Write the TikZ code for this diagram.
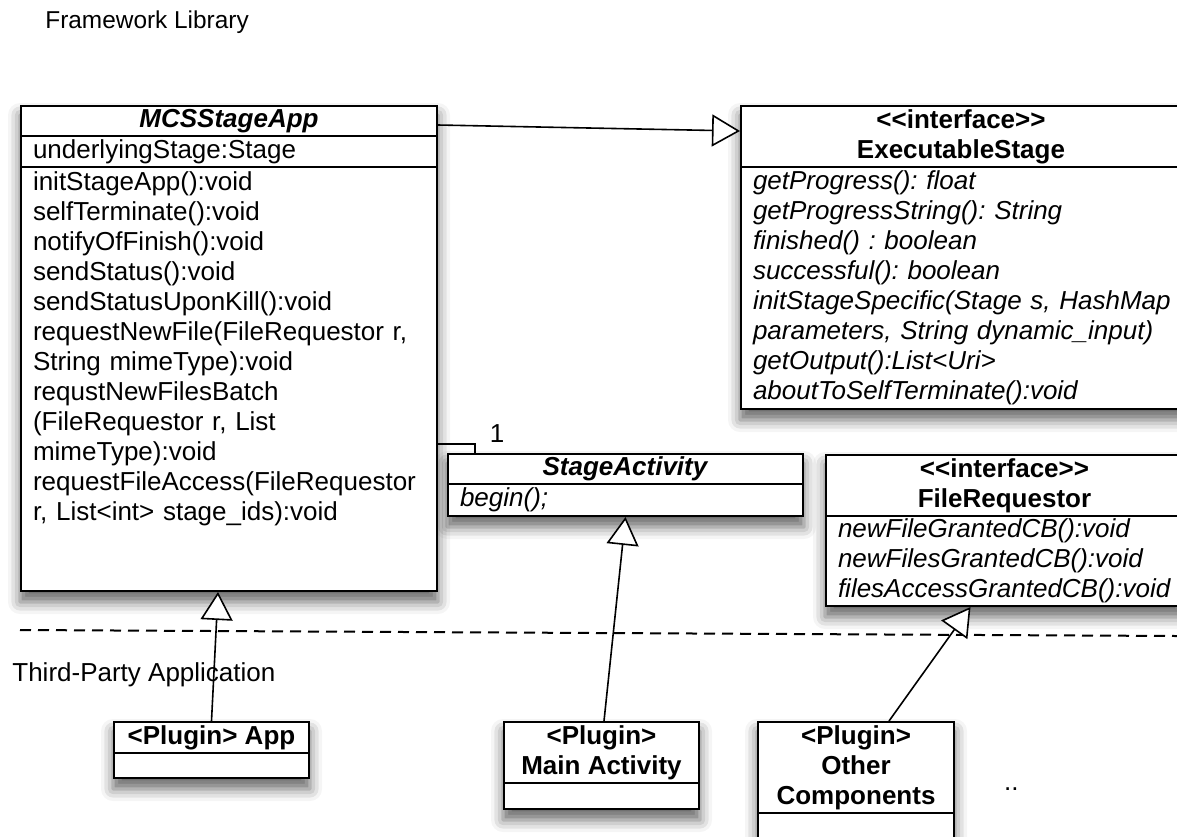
\documentclass[tikz,border=0pt]{standalone}
\usepackage{fontspec}
\setmainfont{Liberation Sans}[Ligatures=TeXOff]
\usetikzlibrary{arrows.meta,shadows.blur,backgrounds}

\begin{document}
\fontsize{13}{15}\selectfont\frenchspacing
\begin{tikzpicture}[x=0.5pt, y=-0.5pt,
    classhead/.style={draw, line width=1pt, fill=white, anchor=north west,
      inner sep=0pt, align=center, font=\bfseries},
    classbody/.style={draw, line width=1pt, fill=white, anchor=north west,
      inner xsep=6pt, inner ysep=0pt, align=left},
    generalize/.style={line width=0.8pt,
      -{Triangle[fill=white, length=14pt, width=16pt]}},
    divider/.style={line width=1pt, dash pattern=on 5.5pt off 3.5pt},
    boxshadow/.style={blur shadow={shadow xshift=0pt, shadow yshift=-5pt,
      shadow blur radius=6pt, shadow opacity=60}}]
  \useasboundingbox (0,0) rectangle (1177,836);
  \clip (0,0) rectangle (1177,836);

  \node[anchor=west, inner sep=0pt, font=\fontsize{12.2}{14}\selectfont] (fwlabel) at (45,22) {Framework Library};
  \node[anchor=west, inner sep=0pt] (tplabel) at (12,675) {Third-Party Application};

  % framework side
  \node[classhead, minimum width=208pt, minimum height=15pt] (mcshead) at (20,105) {\textit{MCSStageApp}};
  \node[classbody, text width=196pt, minimum height=15.5pt] (mcsattr) at (20,135) {underlyingStage:Stage};
  \node[classbody, text width=196pt] (mcsops) at (20,166) {\parbox[c][212pt][t]{196pt}{\raggedright
    \rule{0pt}{11.5pt}initStageApp():void\\
    selfTerminate():void\\
    notifyOfFinish():void\\
    sendStatus():void\\
    sendStatusUponKill():void\\
    requestNewFile(FileRequestor r,\\
    String mimeType):void\\
    requstNewFilesBatch\\
    (FileRequestor r, List\\
    mimeType):void\\
    requestFileAccess(FileRequestor\\
    r, List<int> stage\_ids):void}};

  \node[classhead, minimum width=220pt, minimum height=30.5pt] (exechead) at (740,105) {<<interface>>\\ExecutableStage};
  \node[classbody, text width=220pt, minimum height=121pt, font=\itshape] (execops) at (740,166)
    {getProgress(): float\\
    getProgressString(): String\\
    finished() : boolean\\
    successful(): boolean\\
    initStageSpecific(Stage s, HashMap\\
    parameters, String dynamic\_input)\\
    getOutput():List<Uri>\\
    aboutToSelfTerminate():void};

  \node[classhead, minimum width=177.5pt, minimum height=15pt] (stagehead) at (447,453) {\textit{StageActivity}};
  \node[classbody, text width=165.5pt, minimum height=16pt, font=\itshape] (stageops) at (447,483) {begin();};

  \node[classhead, minimum width=178.5pt, minimum height=30.5pt] (reqhead) at (825,454) {<<interface>>\\FileRequestor};
  \node[classbody, text width=166.5pt, minimum height=45pt, font=\itshape] (reqops) at (825,515)
    {newFileGrantedCB():void\\
    newFilesGrantedCB():void\\
    filesAccessGrantedCB():void};

  % plugin side
  \node[classhead, minimum width=97.5pt, minimum height=15.5pt] (apphead) at (113,721) {<Plugin> App};
  \node[classbody, minimum width=97.5pt, minimum height=12.5pt] (appbody) at (113,752) {};
  \node[classhead, minimum width=97.5pt, minimum height=30.5pt] (mainhead) at (503,721) {<Plugin>\\Main Activity};
  \node[classbody, minimum width=97.5pt, minimum height=13pt] (mainbody) at (503,782) {};
  \node[classhead, minimum width=98pt, minimum height=45.5pt] (otherhead) at (757,721) {<Plugin>\\Other\\Components};
  \node[classbody, minimum width=98pt, minimum height=30pt] (otherbody) at (757,812) {};
  \node[anchor=base west] (dots) at (995,790) {..};

  \draw[divider] (20,630) -- (1177,636);

  % relations
  \draw[generalize] ([yshift=-2pt]mcshead.east) -- ([yshift=2.75pt]exechead.west);
  \draw[line width=0.8pt] ([yshift=-32.5pt]mcsops.east) -| ([xshift=14pt]stagehead.north west);
  \node (mult) at (497,434) {1};
  \draw[generalize] (apphead.north) -- ([xshift=-5.5pt]mcsops.south);
  \draw[generalize] ([xshift=1.25pt]mainhead.north) -- (stageops.south);
  \draw[generalize] ([xshift=16.5pt]otherhead.north) -- ([xshift=-17pt]reqops.south);

  \begin{scope}[on background layer]
    \clip (0,0) rectangle (1177,836);
    \path[boxshadow] (mcshead.north west) rectangle (mcsops.south east);
    \path[boxshadow] (exechead.north west) rectangle (execops.south east);
    \path[boxshadow] (stagehead.north west) rectangle (stageops.south east);
    \path[boxshadow] (reqhead.north west) rectangle (reqops.south east);
    \path[boxshadow] (apphead.north west) rectangle (appbody.south east);
    \path[boxshadow] (mainhead.north west) rectangle (mainbody.south east);
    \path[boxshadow] (otherhead.north west) rectangle (otherbody.south east);
  \end{scope}
\end{tikzpicture}
\end{document}
